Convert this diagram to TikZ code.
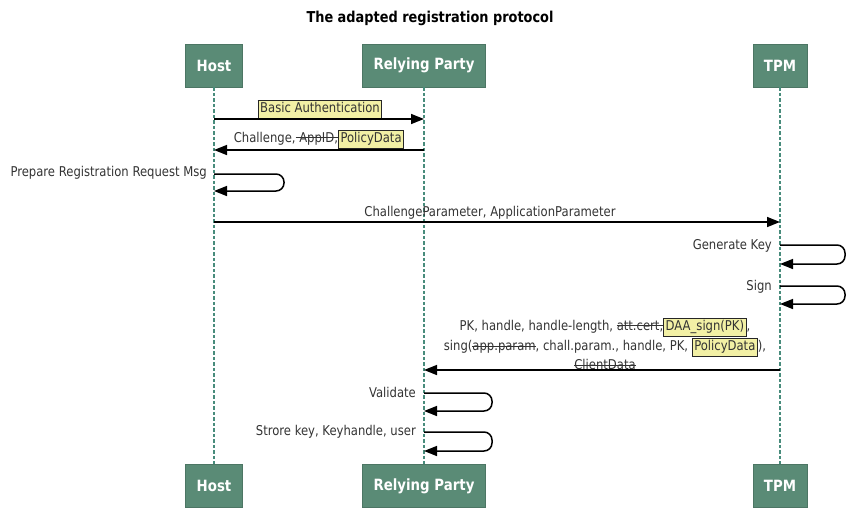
\documentclass[tikz,border=0pt]{standalone}
\usepackage{fontspec}
\setmainfont[FakeStretch=0.86]{DejaVu Sans}
\usetikzlibrary{arrows.meta,calc}
\definecolor{actorgreen}{RGB}{90,139,118}
\definecolor{lifeteal}{RGB}{72,140,124}
\definecolor{notepale}{RGB}{242,240,165}
\newcommand{\notebox}[1]{{\setlength{\fboxsep}{1.5pt}\setlength{\fboxrule}{1pt}\fcolorbox{black!85}{notepale}{\rule[-4pt]{0pt}{13pt}#1}}}
\newsavebox{\strikebox}
\newcommand{\strike}[1]{\sbox{\strikebox}{#1}\rlap{\rule[0.32em]{\wd\strikebox}{1pt}}\usebox{\strikebox}}
\tikzset{
  actor/.style={fill=actorgreen, draw=actorgreen!85!black, line width=0.6pt,
    text=white, font=\fontsize{15.5}{18}\selectfont\bfseries, minimum height=43pt,
    inner xsep=11pt},
  life/.style={draw=lifeteal, line width=2.2pt, dash pattern=on 3.5pt off 2pt},
  msg/.style={-{Triangle[length=13pt,width=10pt]}, line width=1.5pt, draw=black},
  loopmsg/.style={msg, rounded corners=8pt},
  mlabel/.style={font=\fontsize{13.5}{19}\selectfont, inner sep=1pt, text=black!80, align=center},
  ttl/.style={font=\fontsize{15}{18}\selectfont\bfseries},
}
\begin{document}
\begin{tikzpicture}[x=1pt,y=-1pt]
\useasboundingbox (0,0) rectangle (847,507);
% participants, top and bottom
\node[ttl] (title) at (430,18) {The adapted registration protocol};
\node[actor] (hostT) at (214,65.5) {Host};
\node[actor] (rpT) at (424,65.5) {Relying Party};
\node[actor] (tpmT) at (780,65.5) {TPM};
\node[actor] (hostB) at (214,486) {Host};
\node[actor] (rpB) at (424,486) {Relying Party};
\node[actor] (tpmB) at (780,486) {TPM};
\draw[life] (hostT) -- (hostB);
\draw[life] (rpT) -- (rpB);
\draw[life] (tpmT) -- (tpmB);
% message rows
\coordinate (r1) at (0,119);
\coordinate (r2) at (0,150);
\coordinate (r4) at (0,222);
\coordinate (r7) at (0,370);
\node[mlabel] (authL) at (320,109.5) {\notebox{Basic Authentication}};
\draw[msg] (hostT |- r1) -- (rpT |- r1);
\node[mlabel] (challL) at (319,139.5) {Challenge,\strike{ AppID,}\notebox{PolicyData}};
\draw[msg] (rpT |- r2) -- (hostT |- r2);
\node[mlabel, anchor=east] (prepL) at (208,173) {Prepare Registration Request Msg};
\coordinate (prepA) at (214,174);
\coordinate (prepB) at (214,191);
\draw[loopmsg] (prepA) -- ++(70,0) |- (prepB);
\node[mlabel] (paramL) at (490,213) {ChallengeParameter, ApplicationParameter};
\draw[msg] (hostT |- r4) -- (tpmT |- r4);
\node[mlabel, anchor=east] (genL) at (773,246) {Generate Key};
\coordinate (genA) at (780,245);
\coordinate (genB) at (780,264);
\draw[loopmsg] (genA) -- ++(65,0) |- (genB);
\node[mlabel, anchor=east] (signL) at (773,287) {Sign};
\coordinate (signA) at (780,286);
\coordinate (signB) at (780,304);
\draw[loopmsg] (signA) -- ++(65,0) |- (signB);
\node[mlabel] (respL) at (605,344) {PK, handle, handle-length, \strike{att.cert,}\notebox{DAA\_sign(PK)},\\
  sing(\strike{app.param}, chall.param., handle, PK, \notebox{PolicyData}),\\
  \strike{ClientData}};
\draw[msg] (tpmT |- r7) -- (rpT |- r7);
\node[mlabel, anchor=east] (valL) at (417,392) {Validate};
\coordinate (valA) at (424,393);
\coordinate (valB) at (424,411);
\draw[loopmsg] (valA) -- ++(68,0) |- (valB);
\node[mlabel, anchor=east] (storeL) at (417,432) {Strore key, Keyhandle, user};
\coordinate (storeA) at (424,432);
\coordinate (storeB) at (424,451);
\draw[loopmsg] (storeA) -- ++(68,0) |- (storeB);
\end{tikzpicture}
\end{document}
